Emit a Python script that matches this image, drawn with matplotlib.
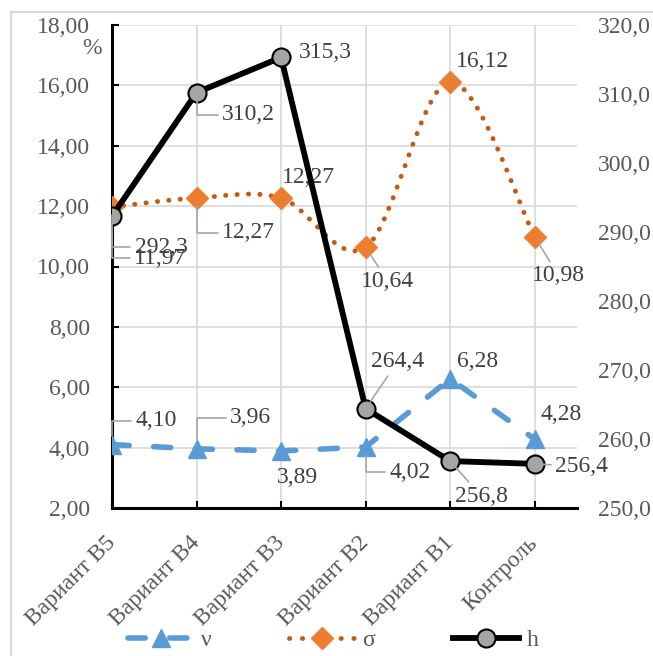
import numpy as np
import matplotlib.pyplot as plt
from matplotlib.path import Path
from matplotlib.patches import PathPatch, Rectangle
from matplotlib.lines import Line2D

plt.rcParams['font.family'] = ['Liberation Serif', 'DejaVu Serif']

categories = ['Вариант В5', 'Вариант В4', 'Вариант В3', 'Вариант В2', 'Вариант В1', 'Контроль']
nu = [4.10, 3.96, 3.89, 4.02, 6.28, 4.28]
sigma = [11.97, 12.27, 12.27, 10.64, 16.12, 10.98]
h = [292.3, 310.2, 315.3, 264.4, 256.8, 256.4]
left_ticks = [2, 4, 6, 8, 10, 12, 14, 16, 18]
right_ticks = [250, 260, 270, 280, 290, 300, 310, 320]

# label offsets (pixels) and leader line shapes
nu_offsets = [(44, 24), (54, 31), (16, -27), (44, -25), (27, 17), (26, 25)]
nu_leaders = ['angle,angleA=0,angleB=90', 'angle,angleA=0,angleB=90', None,
              'angle,angleA=0,angleB=90', None, None]
sigma_offsets = [(48, -51), (52, -35), (27, 20), (22, -34), (32, 20), (24, -39)]
sigma_leaders = ['angle,angleA=0,angleB=90', 'angle,angleA=0,angleB=90', None,
                 'arc3', None, 'arc3']
h_offsets = [(49, -31), (52, -22), (44, 5), (32, 47), (31, -35), (47, -3)]
h_leaders = ['angle,angleA=0,angleB=90', 'angle,angleA=0,angleB=90', None,
             'arc3', 'arc3', 'arc3']

AXIS_GRAY = '#595959'
LABEL_GRAY = '#404040'
BLUE = '#5B9BD5'
ORANGE = '#ED7D31'
DARK_ORANGE = '#C55A11'
FS = 17


def comma(v, nd):
    return f'{v:.{nd}f}'.replace('.', ',')


def smooth_path(xs, ys):
    # bezier segments like a spreadsheet "smoothed line"
    pts = np.column_stack([xs, ys]).astype(float)
    n = len(pts)
    verts = [pts[0]]
    codes = [Path.MOVETO]
    for i in range(n - 1):
        p0 = pts[max(i - 1, 0)]
        p1 = pts[i]
        p2 = pts[i + 1]
        p3 = pts[min(i + 2, n - 1)]
        verts += [p1 + (p2 - p0) / 6, p2 - (p3 - p1) / 6, p2]
        codes += [Path.CURVE4] * 3
    return Path(verts, codes)


def add_labels(axis, xs, ys, nd, offsets, leaders):
    for xi, yi, (dx, dy), ld in zip(xs, ys, offsets, leaders):
        kw = {}
        if ld:
            kw['arrowprops'] = dict(arrowstyle='-', color='#A6A6A6', lw=1.2,
                                    shrinkA=1, shrinkB=6, connectionstyle=ld)
        axis.annotate(comma(yi, nd), (xi, yi), xytext=(dx, dy),
                      textcoords='offset pixels', ha='center', va='center',
                      fontsize=FS, color=LABEL_GRAY, zorder=6, **kw)


fig = plt.figure(figsize=(6.53, 6.56), dpi=100)
fig.add_artist(Rectangle((11 / 653, -0.1), 1.2, 1 - 12 / 656 + 0.1,
                         transform=fig.transFigure, fill=False,
                         edgecolor='#D9D9D9', lw=1.5))

ax = fig.add_axes([112 / 653, 1 - 508 / 656, 465 / 653, 483 / 656])
x = np.arange(len(categories))
ax.set_xlim(0, 5.5)
ax.set_ylim(2, 18)
ax.set_xticks(x)
ax.set_xticklabels(categories, rotation=45, ha='right', va='center',
                   rotation_mode='anchor', fontsize=FS, color=AXIS_GRAY)
ax.set_yticks(left_ticks)
ax.set_yticklabels([comma(v, 2) for v in left_ticks], fontsize=FS, color=AXIS_GRAY)
ax.tick_params(axis='both', direction='in', length=5, width=1.5, color='black')
ax.tick_params(axis='y', pad=16)
ax.tick_params(axis='x', pad=23)
ax.grid(color='#D9D9D9', lw=1.2)
ax.set_axisbelow(True)
for side in ['top', 'right']:
    ax.spines[side].set_visible(False)
for side in ['left', 'bottom']:
    ax.spines[side].set_linewidth(2.2)
    ax.spines[side].set_color('black')

ax2 = ax.twinx()
ax2.set_ylim(250, 320)
ax2.set_yticks(right_ticks)
ax2.set_yticklabels([comma(v, 1) for v in right_ticks], fontsize=FS, color=AXIS_GRAY)
ax2.tick_params(axis='y', length=0, pad=15)
for s in ax2.spines.values():
    s.set_visible(False)

# ν
nu_style = dict(color=BLUE, lw=4, linestyle=(0, (3.1, 4.4)), dash_capstyle='round',
                marker='^', ms=13)
ax.plot(x, nu, zorder=3, **nu_style)

# σ, smoothed dotted line
sigma_dots = (0, (0.05, 2.3))
ax.add_patch(PathPatch(smooth_path(x, sigma), fill=False, capstyle='round',
                       edgecolor=DARK_ORANGE, lw=3.5, linestyle=sigma_dots,
                       zorder=3))
ax.plot(x, sigma, 'D', color=ORANGE, ms=11, zorder=4)

# h on the right axis
h_style = dict(color='black', lw=4.2, marker='o', ms=13, mfc='#A5A5A5',
               mec='black', mew=1.5)
ax2.plot(x, h, zorder=3, **h_style)

add_labels(ax, x, nu, 2, nu_offsets, nu_leaders)
add_labels(ax, x, sigma, 2, sigma_offsets, sigma_leaders)
add_labels(ax2, x, h, 1, h_offsets, h_leaders)

fig.text(92 / 653, 1 - 49 / 656, '%', ha='center', va='center',
         fontsize=FS, color=AXIS_GRAY)

handles = [
    Line2D([], [], **nu_style),
    Line2D([], [], color=DARK_ORANGE, lw=3.5, linestyle=(0, (0.05, 2.6)),
           dash_capstyle='round', marker='D', ms=11, mfc=ORANGE, mec=ORANGE),
    Line2D([], [], **h_style),
]
leg = fig.legend(handles, ['ν', 'σ', 'h'], loc='center',
                 bbox_to_anchor=(333 / 653, 1 - 640 / 656), ncol=3,
                 frameon=False, fontsize=FS, handlelength=2.8,
                 handletextpad=0.3, columnspacing=3.3, numpoints=1)
for t in leg.get_texts():
    t.set_color(AXIS_GRAY)

fig.savefig('out.png', dpi=100)
